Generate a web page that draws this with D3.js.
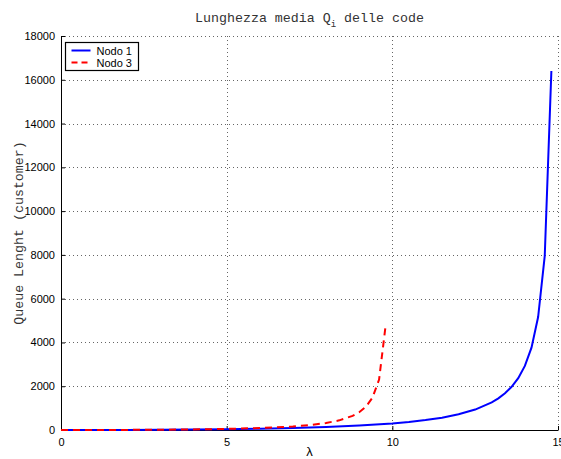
<!DOCTYPE html>
<html>
<head>
<meta charset="utf-8">
<script src="https://cdn.jsdelivr.net/npm/d3@7"></script>
<style>
  body { margin: 0; background: #fff; }
  text { fill: #000; }
</style>
</head>
<body>
<div class="mainContainer"></div>
<script>
// values
const lambda1 = [0, 1, 2, 3, 4, 5, 6, 7, 8, 9, 10, 10.5, 11, 11.5, 12, 12.5, 13, 13.2, 13.4, 13.6, 13.8, 14.0, 14.2, 14.4, 14.6, 14.8];
const nodo1 = [0, 1, 5, 11, 22, 37, 60, 91, 137, 202, 299, 366, 452, 564, 717, 933, 1262, 1445, 1676, 1972, 2369, 2926, 3763, 5160, 7956, 16400];
const lambda3 = [0, 1, 2, 3, 4, 5, 6, 6.5, 7, 7.5, 8, 8.4, 8.8, 9.0, 9.2, 9.4, 9.6, 9.8];
const nodo3 = [0, 1, 5, 13, 27, 50, 90, 121, 163, 225, 320, 441, 645, 810, 1058, 1473, 2304, 4802];
const xTicks = [0, 5, 10, 15];
const yTicks = [0, 2000, 4000, 6000, 8000, 10000, 12000, 14000, 16000, 18000];
const seriesNames = ['Nodo 1', 'Nodo 3'];

const W = 561, H = 459;
const mLeft = 61, mRight = 558, mTop = 36, mBottom = 430;

const svg = d3.select('.mainContainer')
    .append('svg')
    .attr('width', W)
    .attr('height', H)
    .style('font-family', '"Liberation Sans", Arial, sans-serif');

const x = d3.scaleLinear().domain([0, 15]).range([mLeft, mRight]);
const y = d3.scaleLinear().domain([0, 18000]).range([mBottom, mTop]);

// grid
const grid = svg.append('g')
    .attr('stroke', '#666')
    .attr('stroke-width', 1)
    .attr('stroke-dasharray', '1,3');
grid.selectAll('.gx').data(xTicks.filter(d => d > 0))
    .enter().append('line')
    .attr('x1', d => Math.round(x(d)) + 0.5).attr('x2', d => Math.round(x(d)) + 0.5)
    .attr('y1', mTop).attr('y2', mBottom);
grid.selectAll('.gy').data(yTicks.filter(d => d > 0))
    .enter().append('line')
    .attr('y1', d => Math.round(y(d)) + 0.5).attr('y2', d => Math.round(y(d)) + 0.5)
    .attr('x1', mLeft).attr('x2', mRight);

// axes, ticks inward like matlab
const xAxis = d3.axisBottom(x).tickValues(xTicks).tickSizeInner(-4).tickSizeOuter(0).tickPadding(8);
const yAxis = d3.axisLeft(y).tickValues(yTicks).tickFormat(d3.format('d'))
    .tickSizeInner(-4).tickSizeOuter(0).tickPadding(6);

const xAxisGroup = svg.append('g')
    .attr('transform', `translate(0,${mBottom})`)
    .call(xAxis);
const yAxisGroup = svg.append('g')
    .attr('transform', `translate(${mLeft},0)`)
    .call(yAxis);

[xAxisGroup, yAxisGroup].forEach(g => {
    g.attr('font-family', null).attr('font-size', null);
    g.selectAll('text').attr('font-size', 11);
    g.selectAll('path, line').attr('stroke', '#000');
});

// curves
const line = d3.line().x(d => x(d[0])).y(d => y(d[1]));

svg.append('path')
    .datum(d3.zip(lambda1, nodo1))
    .attr('d', line)
    .attr('fill', 'none')
    .attr('stroke', '#0000ff')
    .attr('stroke-width', 2);

svg.append('path')
    .datum(d3.zip(lambda3, nodo3))
    .attr('d', line)
    .attr('fill', 'none')
    .attr('stroke', '#ff0000')
    .attr('stroke-width', 2)
    .attr('stroke-dasharray', '7,5');

// title
const title = svg.append('text')
    .attr('x', (mLeft + mRight) / 2)
    .attr('y', 22)
    .attr('text-anchor', 'middle')
    .attr('font-family', '"Liberation Mono", "Courier New", monospace')
    .attr('font-size', 13.3)
    .style('fill', '#333');
title.append('tspan').text('Lunghezza media Q');
title.append('tspan').attr('font-size', 9).attr('dy', 5).text('i');
title.append('tspan').attr('dy', -5).text(' delle code');

// axis labels
svg.append('text')
    .attr('x', (mLeft + mRight) / 2)
    .attr('y', 456)
    .attr('text-anchor', 'middle')
    .attr('font-size', 13)
    .text('λ');

svg.append('text')
    .attr('transform', `translate(23,${(mTop + mBottom) / 2}) rotate(-90)`)
    .attr('text-anchor', 'middle')
    .attr('font-family', '"Liberation Mono", "Courier New", monospace')
    .attr('font-size', 13.3)
    .style('fill', '#333')
    .text('Queue Lenght (customer)');

// legend
const legend = svg.append('g').attr('transform', 'translate(65.5,42.5)');
legend.append('rect')
    .attr('width', 73).attr('height', 28)
    .attr('fill', '#fff').attr('stroke', '#000').attr('stroke-width', 1.2);
const items = legend.selectAll('.item').data(seriesNames)
    .enter().append('g')
    .attr('transform', (d, i) => `translate(0,${8 + i * 12})`);
items.append('line')
    .attr('x1', 6).attr('x2', 25)
    .attr('stroke', (d, i) => i === 0 ? '#0000ff' : '#ff0000')
    .attr('stroke-width', 2)
    .attr('stroke-dasharray', (d, i) => i === 0 ? null : '6,4');
items.append('text')
    .attr('x', 31).attr('y', 4)
    .attr('font-size', 11)
    .text(d => d);
</script>
</body>
</html>
